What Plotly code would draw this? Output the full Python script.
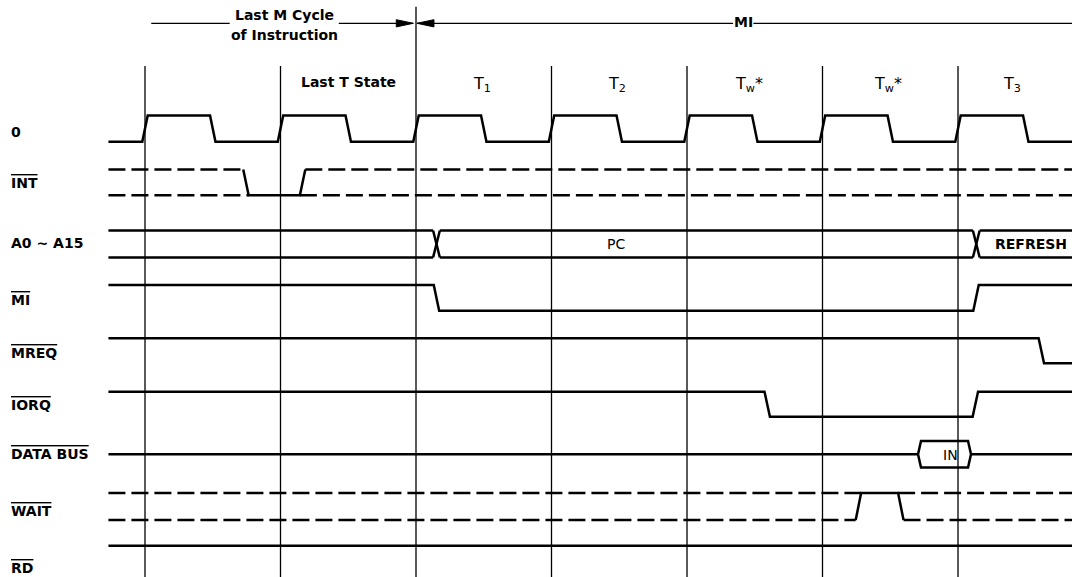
import plotly.graph_objects as go

# ---------------- data (time in T-state units) ----------------
T_START, T_END = -0.27, 6.95
T_STATE_BOUNDS = [0, 1, 2, 3, 4, 5, 6]
M_CYCLE_BOUNDS = [2]
T_STATE_NAMES = ["Last T State", "T<sub>1</sub>", "T<sub>2</sub>",
                 "T<sub>w</sub>*", "T<sub>w</sub>*", "T<sub>3</sub>"]
T_STATE_NAME_POS = [1.5, 2.49, 3.48, 4.46, 5.48, 6.40]

CLK_RISE = [0, 1, 2, 3, 4, 5, 6]
CLK_FALL = [0.5, 1.5, 2.5, 3.5, 4.5, 5.5, 6.5]
INT_EVENTS = [(0.745, 0), (1.163, 1)]
M1_EVENTS = [(2.151, 0), (6.133, 1)]
MREQ_EVENTS = [(6.615, 0)]
IORQ_EVENTS = [(4.592, 0), (6.128, 1)]
WAIT_EVENTS = [(5.265, 1), (5.578, 0)]
RD_EVENTS = []
ADDR_CHANGES = [2.151, 6.135]
ADDR_VALUES = ["", "PC", "REFRESH"]
DATA_WINDOWS = [(5.705, 6.096)]
DATA_VALUES = ["IN"]

SIGNAL_NAMES = ["0", "INT", "A0 ~ A15", "MI", "MREQ", "IORQ", "DATA BUS", "WAIT", "RD"]
SIGNAL_BAR = [False, True, False, True, True, True, True, True, True]

HEADER_LAST = "Last M Cycle"
HEADER_LAST2 = "of Instruction"
HEADER_MI = "MI"

# ---------------- layout / style ----------------
W, H = 1072, 577
PX0, PXU = 145.0, 135.5          # pixel of t=0, pixels per T state
X0, X1 = -PX0 / PXU, (W - PX0) / PXU
EDGE = 0.04
BUS_EDGE = 0.05
DW = 0.022
LW = 2.5
GRID_LW = 1.3
DASH = "17px,6px"
FONT = "DejaVu Sans"

ROW = {
    "CLK": (115.5, 141.7), "INT": (169.5, 195.3), "ADDR": (230.5, 257.5),
    "M1": (285.0, 310.7), "MREQ": (338.3, 363.3), "IORQ": (391.7, 416.7),
    "WAIT": (493.0, 520.0), "RD": (545.7, 545.7),
}
DATA_MID, DATA_HALF = 454.3, 13.3
LABEL_Y = [132, 182.5, 243.3, 300, 353.3, 405, 454, 510.5, 568]
LABEL_X = (9 - PX0) / PXU
GRID_TOP, MBOUND_TOP = 66, 6.7
HEADER_Y = 23.3

fig = go.Figure()


def add_line(xs, ys, dash="solid", width=LW):
    fig.add_trace(go.Scatter(x=xs, y=ys, mode="lines", hoverinfo="skip",
                             line=dict(color="black", width=width, dash=dash)))


def wave(events, init):
    xs, lv, cur = [T_START], [init], init
    for tc, new in events:
        xs += [tc - EDGE / 2, tc + EDGE / 2]
        lv += [cur, new]
        cur = new
    xs.append(T_END)
    lv.append(cur)
    return xs, lv


def add_wave(name, events, init):
    hi, lo = ROW[name]
    xs, lv = wave(events, init)
    add_line(xs, [hi if v else lo for v in lv])


def add_pulse(name, events, idle):
    hi, lo = ROW[name]
    yl = lambda v: hi if v else lo
    (t0, a), (t1, _) = events
    add_line([t0 - EDGE / 2, t0 + EDGE / 2, t1 - EDGE / 2, t1 + EDGE / 2],
             [yl(idle), yl(a), yl(a), yl(idle)])
    add_line([T_START, t0 - EDGE / 2, None, t1 + EDGE / 2, T_END],
             [yl(idle), yl(idle), None, yl(idle), yl(idle)], dash=DASH)
    add_line([T_START, t0 + EDGE / 2, None, t1 - EDGE / 2, T_END],
             [yl(a), yl(a), None, yl(a), yl(a)], dash=DASH)


# T-state grid
gx, gy = [], []
for t in T_STATE_BOUNDS:
    gx += [t, t, None]
    gy += [GRID_TOP, H, None]
for t in M_CYCLE_BOUNDS:
    gx += [t, t, None]
    gy += [MBOUND_TOP, GRID_TOP, None]
add_line(gx, gy, width=GRID_LW)

# clock
clk_events = sorted([(t, 1) for t in CLK_RISE] + [(t, 0) for t in CLK_FALL])
add_wave("CLK", clk_events, 0)

add_pulse("INT", INT_EVENTS, 1)
add_pulse("WAIT", WAIT_EVENTS, 0)

add_wave("M1", M1_EVENTS, 1)
add_wave("MREQ", MREQ_EVENTS, 1)
add_wave("IORQ", IORQ_EVENTS, 1)
add_wave("RD", RD_EVENTS, 1)

# address bus
hi, lo = ROW["ADDR"]
bx, by = [], []
edges = [T_START] + ADDR_CHANGES + [T_END]
for i in range(len(edges) - 1):
    a = edges[i] + (BUS_EDGE / 2 if i > 0 else 0)
    b = edges[i + 1] - (BUS_EDGE / 2 if i + 1 < len(edges) - 1 else 0)
    bx += [a, b, None, a, b, None]
    by += [hi, hi, None, lo, lo, None]
for c in ADDR_CHANGES:
    bx += [c - BUS_EDGE / 2, c + BUS_EDGE / 2, None, c - BUS_EDGE / 2, c + BUS_EDGE / 2, None]
    by += [hi, lo, None, lo, hi, None]
add_line(bx, by)

# data bus
dx, dy = [T_START], [DATA_MID]
top, bot = DATA_MID - DATA_HALF, DATA_MID + DATA_HALF
for o, c in DATA_WINDOWS:
    dx += [o, None, o, o + DW, c - DW, c, c - DW, o + DW, o, None, c]
    dy += [DATA_MID, None, DATA_MID, top, top, DATA_MID, bot, bot, DATA_MID, None, DATA_MID]
dx += [T_END]
dy += [DATA_MID]
add_line(dx, dy)

# header arrows
HL_A, HL_B, HL_C, HL_TIP = 0.046, 0.625, 1.43, 1.98
MI_TIP, MI_A, MI_B = 2.007, 4.34, 4.49
add_line([HL_A, HL_B, None, HL_C, HL_TIP, None, MI_TIP, MI_A, None, MI_B, T_END],
         [HEADER_Y] * 2 + [None] + [HEADER_Y] * 2 + [None] + [HEADER_Y] * 2 + [None] + [HEADER_Y] * 2,
         width=GRID_LW)
AH_L, AH_W = 17 / PXU, 3.6
for tip, d in [(HL_TIP, -1), (MI_TIP, 1)]:
    fig.add_trace(go.Scatter(
        x=[tip, tip + d * AH_L, tip + d * AH_L, tip],
        y=[HEADER_Y, HEADER_Y - AH_W, HEADER_Y + AH_W, HEADER_Y],
        mode="lines", fill="toself", fillcolor="black", hoverinfo="skip",
        line=dict(color="black", width=1)))

# ---------------- text ----------------
ann = []


def txt(x, y, s, size=14, bold=True, xanchor="center", bar=False):
    if bold:
        s = "<b>" + s + "</b>"
    if bar:
        s = '<span style="text-decoration:overline">' + s + "</span>"
    ann.append(dict(x=x, y=y, xref="x", yref="y", text=s, showarrow=False,
                    xanchor=xanchor, yanchor="middle",
                    font=dict(family=FONT, size=size, color="black")))


for name, y, bar in zip(SIGNAL_NAMES, LABEL_Y, SIGNAL_BAR):
    txt(LABEL_X, y, name, xanchor="left", bar=bar)

for name, x in zip(T_STATE_NAMES, T_STATE_NAME_POS):
    if name == "Last T State":
        txt(x, 82, name)
    else:
        txt(x, 84, name, size=16, bold=False)

txt(1.026, 15, HEADER_LAST)
txt(1.026, 35, HEADER_LAST2)
txt(4.415, 22, HEADER_MI)

txt(3.476, 243.5, ADDR_VALUES[1], bold=False)
txt(6.258, 243.5, ADDR_VALUES[2], xanchor="left")
txt(5.945, 455, DATA_VALUES[0], bold=False)

fig.update_layout(
    width=W, height=H, margin=dict(l=0, r=0, t=0, b=0),
    paper_bgcolor="white", plot_bgcolor="white", showlegend=False,
    xaxis=dict(range=[X0, X1], visible=False, fixedrange=True),
    yaxis=dict(range=[H, 0], visible=False, fixedrange=True),
    annotations=ann,
)

fig.write_html("out.html", config={"displayModeBar": False},
               post_script="document.body.style.margin='0';document.body.style.overflow='hidden';")
